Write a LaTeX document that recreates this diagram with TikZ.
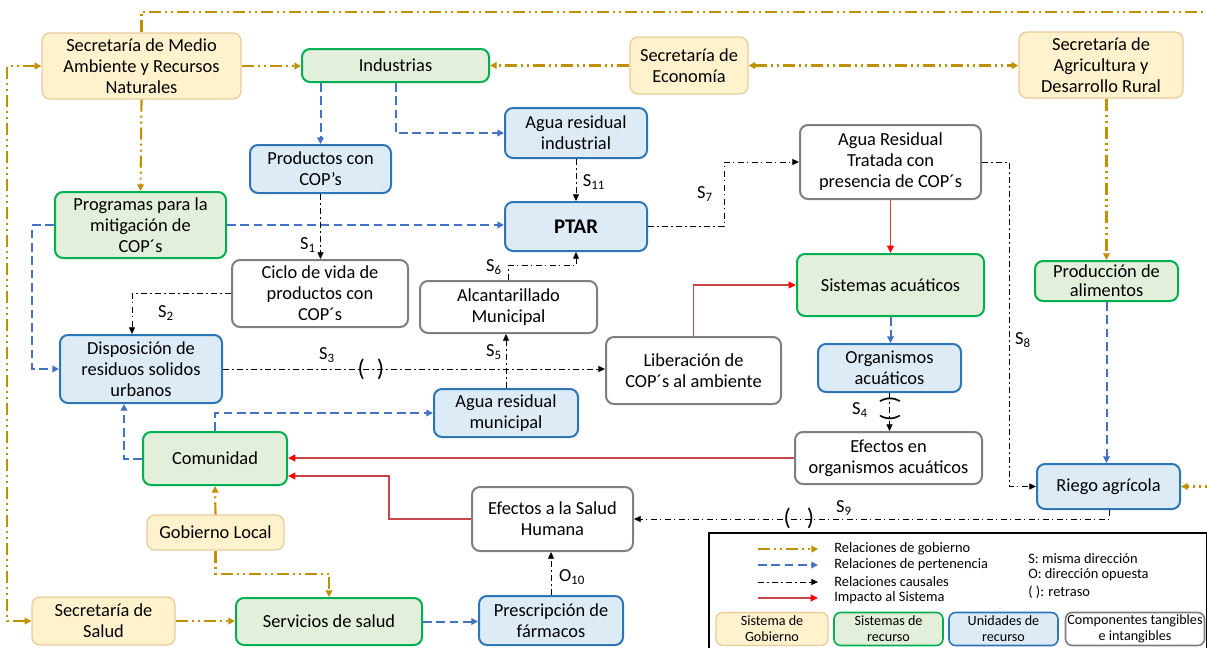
\documentclass[tikz,border=0pt]{standalone}
\usepackage{fontspec}
\setmainfont{Carlito}
\usetikzlibrary{arrows.meta,calc}

\definecolor{govfill}{HTML}{FFF2CC}
\definecolor{govdraw}{HTML}{EBCB9B}
\definecolor{resfill}{HTML}{E2EFDA}
\definecolor{resdraw}{HTML}{00B050}
\definecolor{unifill}{HTML}{DDEBF7}
\definecolor{unidraw}{HTML}{2E75B6}
\definecolor{compdraw}{HTML}{7F7F7F}
\definecolor{govline}{HTML}{BF9000}
\definecolor{belline}{HTML}{4472C4}
\definecolor{impline}{HTML}{C9454A}
\definecolor{imptip}{HTML}{FF0000}

\tikzset{
  box/.style={rounded corners=6pt, line width=1.5pt, align=center, inner sep=0pt,
    font=\fontsize{13.8}{15.8}\selectfont},
  wh/.style 2 args={minimum width=#1*0.75pt, minimum height=#2*0.75pt},
  govbox/.style={box, fill=govfill, draw=govdraw, line width=1pt},
  resbox/.style={box, fill=resfill, draw=resdraw},
  unibox/.style={box, fill=unifill, draw=unidraw},
  compbox/.style={box, fill=white, draw=compdraw},
  legbox/.style={font=\fontsize{10.6}{12}\selectfont, rounded corners=5pt},
  govrel/.style={draw=govline, line width=1.6pt,
    dash pattern=on 9pt off 3pt on 1.5pt off 3pt on 1.5pt off 3pt,
    -{Triangle[length=5pt,width=5pt]}},
  govboth/.style={govrel, {Triangle[length=5pt,width=5pt]}-{Triangle[length=5pt,width=5pt]}},
  belrel/.style={draw=belline, line width=1.5pt, dash pattern=on 6.5pt off 3.5pt,
    -{Triangle[length=5pt,width=5pt]}},
  causal/.style={draw=black, line width=0.6pt,
    dash pattern=on 4.5pt off 2.5pt on 1pt off 2.5pt,
    -{Triangle[length=5pt,width=4.5pt]}},
  impact/.style={draw=impline, line width=1.2pt,
    -{Triangle[length=5.5pt,width=5pt,color=imptip]}},
  lbl/.style={font=\fontsize{13.8}{15}\selectfont, inner sep=0pt},
  delay/.style={font=\fontsize{18}{18}\selectfont, inner sep=0pt},
  lgtext/.style={font=\fontsize{10.8}{12}\selectfont, inner sep=0pt, anchor=west},
}

\begin{document}
\begin{tikzpicture}[x=0.75pt, y=-0.75pt]
\useasboundingbox (0,0) rectangle (1207,647);
\clip (0,0) rectangle (1207,647);

% ---------- components ----------
\node[govbox, wh={199}{66}] (sm) at (141.5,66) {Secretaría de Medio\\Ambiente y Recursos\\Naturales};
\node[resbox, wh={187}{33}] (ind) at (395.5,65.5) {Industrias};
\node[govbox, wh={118}{57}] (eco) at (689,65.5) {Secretaría de\\Economía};
\node[govbox, wh={164}{66}] (agr) at (1101,65) {Secretaría de\\Agricultura y\\Desarrollo Rural};
\node[unibox, wh={141}{48}] (prod) at (320.5,169) {Productos con\\COP’s};
\node[unibox, wh={142}{50}] (ari) at (576,133) {Agua residual\\industrial};
\node[compbox, wh={181}{74}] (art) at (890.5,162) {Agua Residual\\Tratada con\\presencia de COP´s};
\node[resbox, wh={171}{66}] (prog) at (140.5,225) {Programas para la\\mitigación de\\COP´s};
\node[unibox, wh={142}{49}, font=\fontsize{15.6}{17}\selectfont\bfseries] (ptar) at (576,226.5) {PTAR};
\node[compbox, wh={176}{67}] (ciclo) at (320,293.5) {Ciclo de vida de\\productos con\\COP´s};
\node[compbox, wh={177}{52}] (alc) at (508.5,307) {Alcantarillado\\Municipal};
\node[resbox, wh={187}{62}] (sist) at (890.5,285) {Sistemas acuáticos};
\node[resbox, wh={143}{40}, font=\fontsize{13.8}{14.5}\selectfont] (alim) at (1106.5,281) {Producción de\\alimentos};
\node[unibox, wh={162}{68}] (disp) at (141,369) {Disposición de\\residuos solidos\\urbanos};
\node[compbox, wh={175}{67}] (lib) at (693.5,370.5) {Liberación de\\COP´s al ambiente};
\node[unibox, wh={143}{48}] (org) at (889.5,368) {Organismos\\acuáticos};
\node[unibox, wh={144}{48}] (arm) at (506,413) {Agua residual\\municipal};
\node[compbox, wh={187}{52}] (eforg) at (888.5,458) {Efectos en\\organismos acuáticos};
\node[resbox, wh={144}{53}] (com) at (215,458.5) {Comunidad};
\node[unibox, wh={143}{45}] (riego) at (1108.5,486.5) {Riego agrícola};
\node[compbox, wh={161}{64}] (esh) at (552.5,519) {Efectos a la Salud\\Humana};
\node[govbox, wh={137}{35}] (gl) at (215.5,532.5) {Gobierno Local};
\node[govbox, wh={143}{48}] (sal) at (103.5,621) {Secretaría de\\Salud};
\node[resbox, wh={186}{47}] (serv) at (329,621.5) {Servicios de salud};
\node[unibox, wh={144}{49}] (presc) at (551,620.5) {Prescripción de\\fármacos};

% ---------- government relations ----------
\draw[govrel] (sm.east) -- (sm.east -| ind.west);
\draw[govrel] (eco.west) -- (eco.west -| ind.east);
\draw[govboth] (eco.east) -- (eco.east -| agr.west);
\draw[govrel] (sm.south) -- (prog.north);
\draw[govrel] (agr.south -| alim.north) -- (alim.north);
\draw[govrel] (gl.north) -- (com.south);
\draw[govrel] (gl.south) -- ++(0,23) -| (serv.north);
\draw[govrel] (sal.east) -- (sal.east -| serv.west);
\draw[govboth] (sal.west) -- ++(-24,0) |- (sm.west);
\draw[govrel] (sm.north) |- (1216,12) |- (riego.east);

% ---------- belonging relations ----------
\draw[belrel] (prod.north |- ind.south) -- (prod.north);
\draw[belrel] (ind.south) |- (ari.west);
\draw[belrel] (prog.east) -- (prog.east -| ptar.west);
\draw[belrel] (prog.west) -- ++(-22,0) |- (disp.west);
\draw[belrel] (com.west) -| ($(disp.south)+(-17,0)$);
\draw[belrel] (com.north) |- (arm.west);
\draw[belrel] (serv.east) -- (serv.east -| presc.west);
\draw[belrel] (sist.south) -- (sist.south |- org.north);
\draw[belrel] (alim.south) -- (alim.south |- riego.north);

% ---------- causal relations ----------
\draw[causal] (prod.south) -- (prod.south |- ciclo.north);
\draw[causal] (ciclo.west) -| ($(disp.north)+(-9,0)$);
\draw[causal] (disp.east) -- (disp.east -| lib.west);
\draw[causal] (ari.south) -- (ptar.north);
\draw[causal] (alc.north) -- ++(0,-15) -| (ptar.south);
\draw[causal] (arm.north) -- (arm.north |- alc.south);
\draw[causal] (ptar.east) -- ++(76,0) |- (art.west);
\draw[causal] (art.east) -- ++(27,0) |- (riego.west);
\draw[causal] (org.south) -- (org.south |- eforg.north);
\draw[causal] ($(riego.south)+(1,0)$) |- (esh.east);
\draw[causal] (presc.north) -- (presc.north |- esh.south);

% ---------- impact on the system ----------
\draw[impact] (art.south) -- (art.south |- sist.north);
\draw[impact] (lib.north) |- (sist.west);
\draw[impact] (eforg.west) -- (eforg.west -| com.east);
\draw[impact] (esh.west) -- ++(-82,0) |- ($(com.east)+(0,17.5)$);

% ---------- polarity labels and delays ----------
\node[lbl] (s1) at (308,245) {S\textsubscript{1}};
\node[lbl] (s2) at (166,313) {S\textsubscript{2}};
\node[lbl] (s3) at (327,355) {S\textsubscript{3}};
\node[lbl] (s4) at (860,410) {S\textsubscript{4}};
\node[lbl] (s5) at (494,352) {S\textsubscript{5}};
\node[lbl] (s6) at (494,267) {S\textsubscript{6}};
\node[lbl] (s7) at (705,194) {S\textsubscript{7}};
\node[lbl] (s8) at (1023,340) {S\textsubscript{8}};
\node[lbl] (s9) at (844,508) {S\textsubscript{9}};
\node[lbl] (o10) at (572,577) {O\textsubscript{10}};
\node[lbl] (s11) at (594,182) {S\textsubscript{11}};
\node[delay] (d3) at (371,369) {(\hspace{9pt})};
\node[delay] (d9) at (799,518) {(\hspace{12pt})};
\node[delay, rotate=90] (d4) at (890,409) {(\hspace{8pt})};

% ---------- key ----------
\draw[line width=0.8pt] (709,533) rectangle (1206.5,670);
\coordinate (ka1) at (758,549); \coordinate (kb1) at (818,549);
\coordinate (ka2) at (758,565); \coordinate (kb2) at (818,565);
\coordinate (ka3) at (758,582); \coordinate (kb3) at (818,582);
\coordinate (ka4) at (758,598); \coordinate (kb4) at (818,598);
\draw[govrel, line width=1.3pt] (ka1) -- (kb1);
\draw[belrel, line width=1.2pt] (ka2) -- (kb2);
\draw[causal] (ka3) -- (kb3);
\draw[impact] (ka4) -- (kb4);
\node[lgtext] (kt1) at (834,549) {Relaciones de gobierno};
\node[lgtext] (kt2) at (834,565) {Relaciones de pertenencia};
\node[lgtext] (kt3) at (834,582) {Relaciones causales};
\node[lgtext] (kt4) at (834,598) {Impacto al Sistema};
\node[lgtext] (kr1) at (1028,559) {S: misma dirección};
\node[lgtext] (kr2) at (1028,575) {O: dirección opuesta};
\node[lgtext] (kr3) at (1028,592) {( ): retraso};
\node[govbox, legbox, wh={112}{33}] (k1) at (772,629) {Sistema de\\Gobierno};
\node[resbox, legbox, wh={109}{33}, line width=1.2pt] (k2) at (888.5,629) {Sistemas de\\recurso};
\node[unibox, legbox, wh={109}{33}, line width=1.2pt] (k3) at (1003.5,629) {Unidades de\\recurso};
\node[compbox, legbox, wh={139}{33}, line width=1.2pt] (k4) at (1135,629) {Componentes tangibles\\e intangibles};
\end{tikzpicture}
\end{document}
